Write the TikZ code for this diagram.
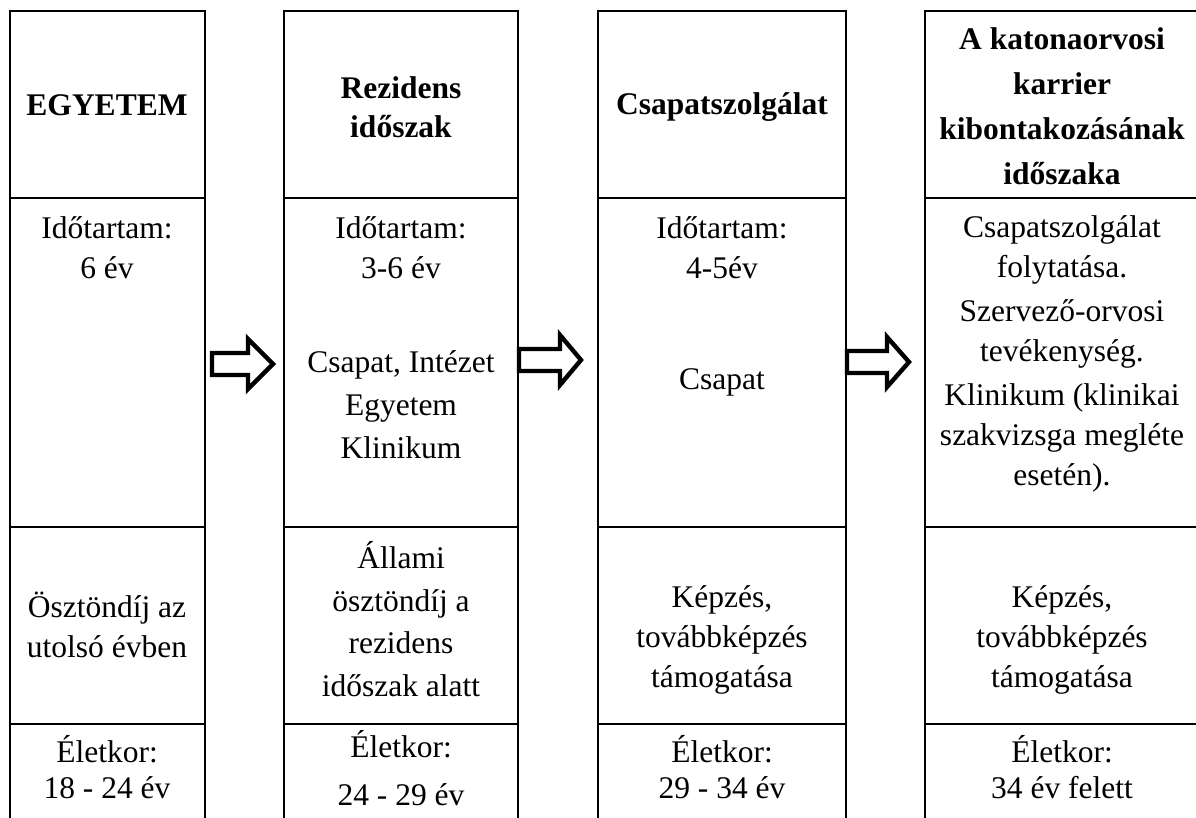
\documentclass[tikz,border=0pt]{standalone}
\usepackage{fontspec}
\setmainfont{Liberation Serif}
\begin{document}
\begin{tikzpicture}[x=0.5pt,y=-0.5pt,
		rule/.style={black,line width=1pt},
		blockarr/.style={black,line width=2.2pt,line join=miter,fill=white},
		cell/.style={align=center,inner sep=0pt,font=\fontsize{15.75}{20}\selectfont},
		head/.style={align=center,inner sep=0pt,font=\fontsize{15.75}{#1}\selectfont\bfseries},
		head/.default=20]
		\useasboundingbox (0,0) rectangle (1196,818);
		% columns of the table
		\foreach \xl/\xr in {10/205, 284/518, 598/846} {
			\draw [rule] (\xl,818) -- (\xl,11) -- (\xr,11) -- (\xr,818);
			\foreach \yy in {198,527,724}
				\draw [rule] (\xl,\yy) -- (\xr,\yy);
		}
		\draw [rule] (925,818) -- (925,11) -- (1197,11);
		\foreach \yy in {198,527,724}
			\draw [rule] (925,\yy) -- (1197,\yy);
		% block arrows between the columns
		\foreach \tx/\bx/\px/\ay in {212/248/273/364, 519/560/581/360, 847/887/909/362} {
			\draw [blockarr] (\tx,\ay-11) -- (\bx,\ay-11) -- (\bx,\ay-25) -- (\px,\ay)
				-- (\bx,\ay+25) -- (\bx,\ay+11) -- (\tx,\ay+11) -- cycle;
		}
		% headers
		\node [head] (h1) at (107,105) {EGYETEM};
		\node [head=19.5] (h2) at (401,107) {Rezidens\\időszak};
		\node [head] (h3) at (722,107) {Csapatszolgálat};
		\node [head=22.5] (h4) at (1062,106) {A katonaorvosi\\karrier\\kibontakozásának\\időszaka};
		% duration and place
		\node [cell] (d1) at (107,248) {Időtartam:\\6 év};
		\node [cell] (d2) at (401,248) {Időtartam:\\3-6 év};
		\node [cell,font=\fontsize{15.75}{21.5}\selectfont] (p2) at (401,405) {Csapat, Intézet\\Egyetem\\Klinikum};
		\node [cell] (d3) at (722,248) {Időtartam:\\4-5év};
		\node [cell] (p3) at (722,382) {Csapat};
		\node [cell] (p4) at (1062,354) {Csapatszolgálat\\folytatása.\\[2pt]Szervező-orvosi\\tevékenység.\\[2pt]Klinikum (klinikai\\szakvizsga megléte\\esetén).};
		% support
		\node [cell] (s1) at (107,625) {Ösztöndíj az\\utolsó évben};
		\node [cell,font=\fontsize{15.75}{21.3}\selectfont] (s2) at (401,619) {Állami\\ösztöndíj a\\rezidens\\időszak alatt};
		\node [cell] (s3) at (722,640) {Képzés,\\továbbképzés\\támogatása};
		\node [cell] (s4) at (1062,640) {Képzés,\\továbbképzés\\támogatása};
		% age
		\node [cell,font=\fontsize{15.75}{18}\selectfont] (a1) at (107,767) {Életkor:\\18 - 24 év};
		\node [cell,font=\fontsize{15.75}{24}\selectfont] (a2) at (401,768) {Életkor:\\24 - 29 év};
		\node [cell,font=\fontsize{15.75}{18}\selectfont] (a3) at (722,767) {Életkor:\\29 - 34 év};
		\node [cell,font=\fontsize{15.75}{18}\selectfont] (a4) at (1062,767) {Életkor:\\34 év felett};
\end{tikzpicture}
\end{document}
